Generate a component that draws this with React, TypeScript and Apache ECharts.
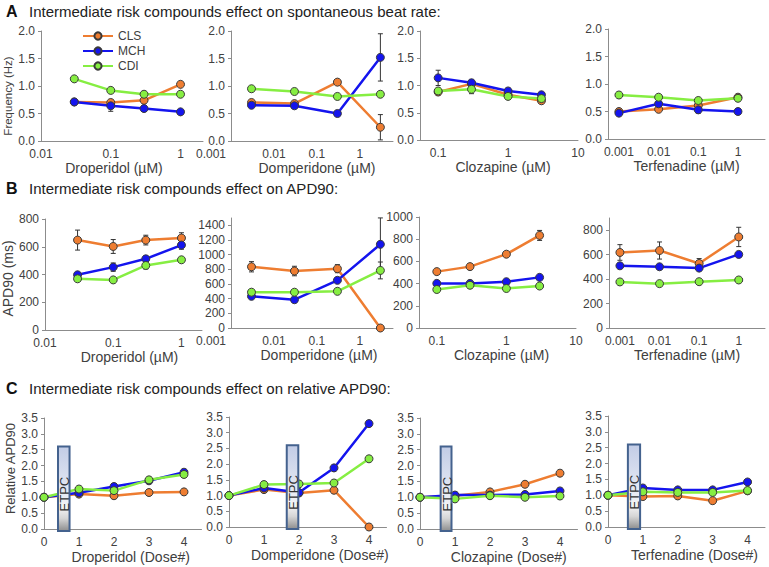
import React, { useEffect, useRef } from 'react';
import * as echarts from 'echarts';

// ---------- data ----------
const seriesNames = ['CLS', 'MCH', 'CDI'];
const seriesColors = ['#EE7D31', '#1414EE', '#86EE42'];

const concDroperidol = [0.03, 0.1, 0.3, 1];
const concDomperidone = [0.003, 0.03, 0.3, 3];
const concClozapine = [0.1, 0.3, 1, 3];
const concTerfenadine = [0.001, 0.01, 0.1, 1];
const doses = [0, 1, 2, 3, 4];

// A: spontaneous beat rate (Hz)
const freqDroperidol = { CLS: [0.71, 0.7, 0.74, 1.03], MCH: [0.71, 0.64, 0.59, 0.53], CDI: [1.13, 0.92, 0.85, 0.85] };
const freqDroperidolErr = { CLS: [0.03, 0.04, 0.03, 0.04], MCH: [0.03, 0.1, 0.03, 0.03], CDI: [0.02, 0.02, 0.02, 0.02] };
const freqDomperidone = { CLS: [0.7, 0.68, 1.07, 0.25], MCH: [0.65, 0.64, 0.5, 1.52], CDI: [0.95, 0.9, 0.81, 0.85] };
const freqDomperidoneErr = { CLS: [0.03, 0.03, 0.04, 0.23], MCH: [0.03, 0.03, 0.03, 0.43], CDI: [0.02, 0.02, 0.03, 0.03] };
const freqClozapine = { CLS: [0.88, 1.03, 0.83, 0.72], MCH: [1.14, 1.05, 0.9, 0.83], CDI: [0.9, 0.93, 0.8, 0.76] };
const freqClozapineErr = { CLS: [0.05, 0.04, 0.03, 0.03], MCH: [0.14, 0.05, 0.04, 0.03], CDI: [0.04, 0.08, 0.03, 0.03] };
const freqTerfenadine = { CLS: [0.5, 0.54, 0.61, 0.76], MCH: [0.47, 0.64, 0.53, 0.5], CDI: [0.8, 0.76, 0.7, 0.74] };
const freqTerfenadineErr = { CLS: [0.02, 0.03, 0.03, 0.03], MCH: [0.03, 0.04, 0.06, 0.03], CDI: [0.03, 0.03, 0.03, 0.03] };

// B: APD90 (ms)
const apdDroperidol = { CLS: [648, 602, 648, 663], MCH: [398, 453, 513, 612], CDI: [369, 361, 465, 506] };
const apdDroperidolErr = { CLS: [72, 50, 35, 38], MCH: [15, 30, 20, 30], CDI: [10, 10, 25, 15] };
const apdDomperidone = { CLS: [835, 777, 809, 0], MCH: [432, 386, 650, 1141], CDI: [488, 488, 500, 785] };
const apdDomperidoneErr = { CLS: [70, 65, 55, 0], MCH: [20, 20, 30, 360], CDI: [10, 10, 10, 115] };
const apdClozapine = { CLS: [508, 553, 665, 834], MCH: [402, 402, 417, 456], CDI: [347, 385, 356, 378] };
const apdClozapineErr = { CLS: [15, 15, 15, 45], MCH: [10, 10, 10, 15], CDI: [10, 10, 10, 10] };
const apdTerfenadine = { CLS: [618, 634, 528, 745], MCH: [509, 501, 490, 602], CDI: [377, 363, 379, 393] };
const apdTerfenadineErr = { CLS: [64, 70, 40, 79], MCH: [15, 15, 20, 15], CDI: [8, 8, 8, 8] };

// C: relative APD90
const relDroperidol = { CLS: [1.0, 1.1, 1.05, 1.15, 1.17], MCH: [1.0, 1.14, 1.34, 1.52, 1.79], CDI: [1.0, 1.26, 1.21, 1.55, 1.72] };
const relDomperidone = { CLS: [1.0, 1.19, 1.08, 1.17, 0.0], MCH: [1.0, 1.24, 1.1, 1.88, 3.29], CDI: [1.0, 1.35, 1.37, 1.4, 2.17] };
const relClozapine = { CLS: [1.0, 1.05, 1.17, 1.41, 1.76], MCH: [1.0, 1.07, 1.07, 1.09, 1.2], CDI: [1.0, 0.95, 1.05, 1.0, 1.04] };
const relTerfenadine = { CLS: [1.0, 0.96, 0.98, 0.83, 1.14], MCH: [1.0, 1.23, 1.17, 1.17, 1.42], CDI: [1.0, 1.11, 1.09, 1.09, 1.15] };

// ETPC marker boxes (dose range), shared vertical extent and label height
const etpcDroperidol = [0.4, 0.73];
const etpcDomperidone = [1.65, 1.98];
const etpcClozapine = [0.59, 0.9];
const etpcTerfenadine = [0.57, 0.92];
const etpcYRange = [-0.06, 2.6];
const etpcLabelY = 1.1;

const titles = [
  { letter: 'A', text: 'Intermediate risk compounds effect on spontaneous beat rate:' },
  { letter: 'B', text: 'Intermediate risk compounds effect on APD90:' },
  { letter: 'C', text: 'Intermediate risk compounds effect on relative APD90:' },
];

// ---------- layout ----------
const FONT = '"Liberation Sans", Arial, Helvetica, sans-serif';
const AXIS_COLOR = '#8c8c8c';
const TEXT_COLOR = '#404040';
const titleY = [11, 188, 388];

type Panel = {
  box: number[];
  xLog: boolean; xMin: number; xMax: number;
  hideXMin?: boolean; hideXMax?: boolean; shiftXMin?: number;
  yMax: number; yInterval: number; yDec: number; hideYMax?: boolean;
  xName: string; xNameGap: number; xNameShift: number;
  yName?: string; yNameGap?: number; yNameShift?: number; yNameSize?: number;
  xs: number[]; vals: Record<string, number[]>; errs?: Record<string, number[]>;
  etpc?: number[];
};

const panels: Panel[] = [
  { box: [41, 31, 203, 141], xLog: true, xMin: 0.01, xMax: 2.1, hideXMax: true, yMax: 2, yInterval: 0.5, yDec: 1,
    xName: 'Droperidol (µM)', xNameGap: 18, xNameShift: -8, yName: 'Frequency (Hz)', yNameGap: 22, yNameShift: 10, yNameSize: 11.5,
    xs: concDroperidol, vals: freqDroperidol, errs: freqDroperidolErr },
  { box: [231, 31, 393, 141], xLog: true, xMin: 0.001, xMax: 5.9, hideXMax: true, shiftXMin: 20, yMax: 2, yInterval: 0.5, yDec: 1,
    xName: 'Domperidone (µM)', xNameGap: 18, xNameShift: 5, xs: concDomperidone, vals: freqDomperidone, errs: freqDomperidoneErr },
  { box: [420, 31, 578, 140], xLog: true, xMin: 0.055, xMax: 10, hideXMin: true, yMax: 2, yInterval: 0.5, yDec: 1,
    xName: 'Clozapine (µM)', xNameGap: 19, xNameShift: 4, xs: concClozapine, vals: freqClozapine, errs: freqClozapineErr },
  { box: [608, 29, 765, 139], xLog: true, xMin: 0.00053, xMax: 4.8, hideXMin: true, hideXMax: true, yMax: 2, yInterval: 0.5, yDec: 1,
    xName: 'Terfenadine (µM)', xNameGap: 19, xNameShift: 0, xs: concTerfenadine, vals: freqTerfenadine, errs: freqTerfenadineErr },

  { box: [45, 219, 202, 330], xLog: true, xMin: 0.01, xMax: 2, hideXMax: true, yMax: 800, yInterval: 200, yDec: 0,
    xName: 'Droperidol (µM)', xNameGap: 20, xNameShift: 6, yName: 'APD90 (ms)', yNameGap: 30, yNameShift: 4, yNameSize: 14,
    xs: concDroperidol, vals: apdDroperidol, errs: apdDroperidolErr },
  { box: [231, 218, 393, 328], xLog: true, xMin: 0.001, xMax: 5.9, hideXMax: true, shiftXMin: 20, yMax: 1500, yInterval: 200, yDec: 0, hideYMax: true,
    xName: 'Domperidone (µM)', xNameGap: 20, xNameShift: 7, xs: concDomperidone, vals: apdDomperidone, errs: apdDomperidoneErr },
  { box: [419, 217, 576, 328], xLog: true, xMin: 0.0555, xMax: 10, hideXMin: true, yMax: 1000, yInterval: 200, yDec: 0,
    xName: 'Clozapine (µM)', xNameGap: 20, xNameShift: 4, xs: concClozapine, vals: apdClozapine, errs: apdClozapineErr },
  { box: [609, 218, 765, 328], xLog: true, xMin: 0.00053, xMax: 4.6, hideXMin: true, hideXMax: true, yMax: 900, yInterval: 200, yDec: 0, hideYMax: true,
    xName: 'Terfenadine (µM)', xNameGap: 20, xNameShift: 0, xs: concTerfenadine, vals: apdTerfenadine, errs: apdTerfenadineErr },

  { box: [44, 418, 201.5, 529], xLog: false, xMin: 0, xMax: 4.5, hideXMax: true, yMax: 3.5, yInterval: 0.5, yDec: 1,
    xName: 'Droperidol (Dose#)', xNameGap: 21, xNameShift: 8, yName: 'Relative APD90', yNameGap: 27, yNameShift: -5, yNameSize: 13,
    xs: doses, vals: relDroperidol, etpc: etpcDroperidol },
  { box: [229, 417, 386.5, 527], xLog: false, xMin: 0, xMax: 4.5, hideXMax: true, yMax: 3.5, yInterval: 0.5, yDec: 1,
    xName: 'Domperidone (Dose#)', xNameGap: 21, xNameShift: 12, xs: doses, vals: relDomperidone, etpc: etpcDomperidone },
  { box: [420, 418, 577.5, 529], xLog: false, xMin: 0, xMax: 4.5, hideXMax: true, yMax: 3.5, yInterval: 0.5, yDec: 1,
    xName: 'Clozapine (Dose#)', xNameGap: 21, xNameShift: 10, xs: doses, vals: relClozapine, etpc: etpcClozapine },
  { box: [608, 416, 765, 527], xLog: false, xMin: 0, xMax: 4.5, hideXMax: true, yMax: 3.5, yInterval: 0.5, yDec: 1,
    xName: 'Terfenadine (Dose#)', xNameGap: 21, xNameShift: 8, xs: doses, vals: relTerfenadine, etpc: etpcTerfenadine },
];

const fmtNum = (v: number) => String(parseFloat(Number(v).toPrecision(6)));

function buildOption() {
  const grid: any[] = [];
  const xAxis: any[] = [];
  const yAxis: any[] = [];
  const series: any[] = [];

  panels.forEach((p, i) => {
    const [l, t, r, b] = p.box;
    grid.push({ left: l, top: t, width: r - l, height: b - t, containLabel: false });

    const xs = p.xNameShift;
    const xPad = xs >= 0 ? [0, 0, 0, 2 * xs] : [0, -2 * xs, 0, 0];
    const minShift = p.shiftXMin || 0;
    xAxis.push({
      gridIndex: i,
      type: p.xLog ? 'log' : 'value',
      logBase: 10,
      min: p.xMin,
      max: p.xMax,
      interval: p.xLog ? undefined : 1,
      axisLine: { show: true, onZero: false, lineStyle: { color: AXIS_COLOR, width: 1 } },
      axisTick: { show: false },
      splitLine: { show: false },
      axisLabel: {
        color: TEXT_COLOR, fontSize: 12, fontFamily: FONT, margin: 7,
        showMinLabel: !p.hideXMin, showMaxLabel: !p.hideXMax,
        formatter: (v: number) => {
          const s = fmtNum(v);
          if (minShift && Math.abs(Math.log10(v) - Math.log10(p.xMin)) < 1e-6) return `{m|${s}}`;
          return s;
        },
        rich: { m: { fontSize: 12, fontFamily: FONT, color: TEXT_COLOR, padding: [0, 2 * minShift, 0, 0] } },
      },
      name: p.xName,
      nameLocation: 'middle',
      nameGap: p.xNameGap,
      nameTextStyle: { fontSize: 14, color: TEXT_COLOR, fontFamily: FONT, padding: xPad },
    });

    const ys = p.yNameShift || 0;
    const yPad = ys >= 0 ? [0, 2 * ys, 0, 0] : [0, 0, 0, -2 * ys];
    yAxis.push({
      gridIndex: i,
      type: 'value',
      min: 0,
      max: p.yMax,
      interval: p.yInterval,
      axisLine: { show: true, onZero: false, lineStyle: { color: AXIS_COLOR, width: 1 } },
      axisTick: { show: true, length: 3, lineStyle: { color: AXIS_COLOR } },
      splitLine: { show: false },
      axisLabel: {
        color: TEXT_COLOR, fontSize: 12, fontFamily: FONT, margin: 6,
        showMaxLabel: !p.hideYMax,
        formatter: (v: number) => Number(v).toFixed(p.yDec),
      },
      name: p.yName || '',
      nameLocation: 'middle',
      nameGap: p.yNameGap || 20,
      nameTextStyle: { fontSize: p.yNameSize || 12, color: TEXT_COLOR, fontFamily: FONT, padding: yPad },
    });

    // error bars
    if (p.errs) {
      const errData: number[][] = [];
      seriesNames.forEach((n) => {
        p.xs.forEach((x, k) => {
          const e = p.errs![n][k];
          if (e > 0) errData.push([x, p.vals[n][k] - e, p.vals[n][k] + e]);
        });
      });
      series.push({
        type: 'custom',
        xAxisIndex: i,
        yAxisIndex: i,
        silent: true,
        z: 2,
        encode: { x: 0, y: [1, 2] },
        data: errData,
        renderItem: (_params: any, api: any) => {
          const x = api.value(0);
          const top = api.coord([x, api.value(2)]);
          const bot = api.coord([x, api.value(1)]);
          const cap = 2.5;
          const st = { stroke: '#333333', lineWidth: 1 };
          return {
            type: 'group',
            children: [
              { type: 'line', shape: { x1: top[0], y1: top[1], x2: bot[0], y2: bot[1] }, style: st },
              { type: 'line', shape: { x1: top[0] - cap, y1: top[1], x2: top[0] + cap, y2: top[1] }, style: st },
              { type: 'line', shape: { x1: bot[0] - cap, y1: bot[1], x2: bot[0] + cap, y2: bot[1] }, style: st },
            ],
          };
        },
      });
    }

    seriesNames.forEach((n, si) => {
      series.push({
        type: 'line',
        name: n,
        xAxisIndex: i,
        yAxisIndex: i,
        data: p.xs.map((x, k) => [x, p.vals[n][k]]),
        symbol: 'circle',
        symbolSize: 8,
        showAllSymbol: true,
        z: 3,
        lineStyle: { color: seriesColors[si], width: 2.5 },
        itemStyle: { color: seriesColors[si], borderColor: '#3a3a3a', borderWidth: 1 },
        emphasis: { disabled: true },
      });
    });

    if (p.etpc) {
      series.push({
        type: 'custom',
        xAxisIndex: i,
        yAxisIndex: i,
        silent: true,
        z: 10,
        encode: { x: [0, 1], y: [2, 3] },
        data: [[p.etpc[0], p.etpc[1], etpcYRange[0], etpcYRange[1]]],
        renderItem: (_params: any, api: any) => {
          const a = api.coord([api.value(0), api.value(3)]);
          const c = api.coord([api.value(1), api.value(2)]);
          const lab = api.coord([api.value(0), etpcLabelY]);
          const fill = new echarts.graphic.LinearGradient(0, 0, 0, 1, [
            { offset: 0, color: '#c2cce6' },
            { offset: 0.45, color: '#dfe4f1' },
            { offset: 0.72, color: '#f3f3f5' },
            { offset: 0.85, color: '#d6d6d6' },
            { offset: 1, color: '#8e8e8e' },
          ]);
          return {
            type: 'group',
            children: [
              { type: 'rect', shape: { x: a[0], y: a[1], width: c[0] - a[0], height: c[1] - a[1] },
                style: { fill, stroke: '#44628e', lineWidth: 2 } },
              { type: 'text', x: (a[0] + c[0]) / 2 + 1, y: lab[1], rotation: Math.PI / 2,
                style: { text: 'ETPC', fill: '#333333', fontSize: 13, fontFamily: FONT, align: 'center', verticalAlign: 'middle' } },
            ],
          };
        },
      });
    }
  });

  const graphic: any[] = [];
  titles.forEach((t, k) => {
    graphic.push({ type: 'text', x: 6, y: titleY[k], style: { text: t.letter, fontSize: 16, fontWeight: 'bold', fontFamily: FONT, fill: '#111111', verticalAlign: 'middle' } });
    graphic.push({ type: 'text', x: 29, y: titleY[k], style: { text: t.text, fontSize: 15, fontFamily: FONT, fill: '#222222', verticalAlign: 'middle' } });
  });

  return {
    animation: false,
    backgroundColor: '#ffffff',
    grid,
    xAxis,
    yAxis,
    series,
    graphic,
    legend: {
      data: seriesNames,
      orient: 'vertical',
      left: 82,
      top: 30,
      padding: 0,
      itemWidth: 30,
      itemHeight: 9,
      itemGap: 3,
      selectedMode: false,
      textStyle: { fontSize: 12, color: TEXT_COLOR, fontFamily: FONT },
    },
  };
}

export default function App() {
  const ref = useRef<HTMLDivElement>(null);
  useEffect(() => {
    if (!ref.current) return;
    const chart = echarts.init(ref.current, undefined, { renderer: 'svg' });
    chart.setOption(buildOption() as any);
    return () => chart.dispose();
  }, []);
  return <div ref={ref} style={{ position: 'fixed', left: 0, top: 0, width: 769, height: 567, background: '#fff' }} />;
}
